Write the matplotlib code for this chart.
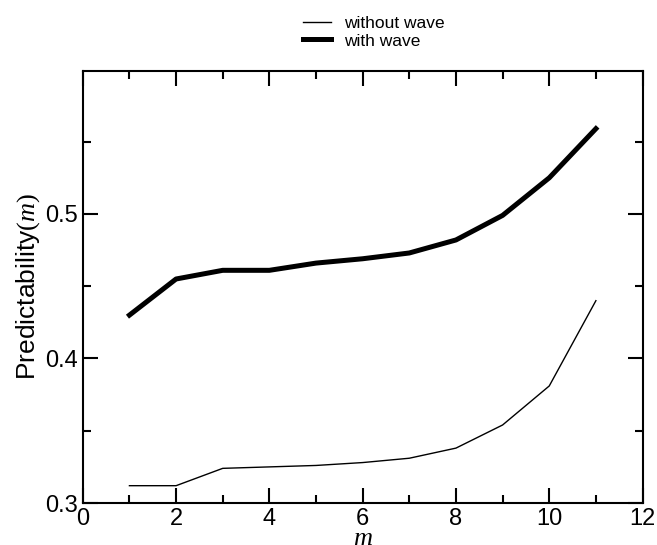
import matplotlib
matplotlib.use('Agg')
import matplotlib.pyplot as plt
from matplotlib.ticker import MultipleLocator

plt.rcParams['font.family'] = ['Liberation Sans', 'DejaVu Sans']
plt.rcParams['mathtext.fontset'] = 'custom'
plt.rcParams['mathtext.it'] = 'Liberation Serif:italic'
plt.rcParams['mathtext.rm'] = 'Liberation Serif'

m = [1, 2, 3, 4, 5, 6, 7, 8, 9, 10, 11]
without_wave = [0.312, 0.312, 0.324, 0.325, 0.326, 0.328, 0.331, 0.338, 0.354, 0.381, 0.440]
with_wave = [0.430, 0.455, 0.461, 0.461, 0.466, 0.469, 0.473, 0.482, 0.499, 0.525, 0.559]

fig = plt.figure(figsize=(6.57, 5.45), dpi=100)
ax = fig.add_axes([0.126, 0.077, 0.852, 0.793])

l1, = ax.plot(m, without_wave, color='black', lw=1.0, label='without wave')
l2, = ax.plot(m, with_wave, color='black', lw=3.6, label='with wave')

ax.set_xlim(0, 12)
ax.set_ylim(0.3, 0.599)
ax.xaxis.set_major_locator(MultipleLocator(2))
ax.xaxis.set_minor_locator(MultipleLocator(1))
ax.set_yticks([0.3, 0.4, 0.5])
ax.yaxis.set_minor_locator(MultipleLocator(0.05))
ax.tick_params(which='both', direction='in', top=True, right=True, width=1.5, labelsize=17)
ax.tick_params(which='major', length=11)
ax.tick_params(which='minor', length=6)
for s in ax.spines.values():
    s.set_linewidth(1.5)

ax.set_xlabel(r'$m$', fontsize=19, labelpad=-3)
ax.set_ylabel('Predictability' + r'$(m)$', fontsize=19, labelpad=2)

fig.legend(handles=[l1, l2], loc='upper left', bbox_to_anchor=(0.437, 1.0),
           frameon=False, fontsize=12.5, handlelength=1.6, handletextpad=0.8,
           labelspacing=0.15)

fig.savefig('out.png', dpi=100)
